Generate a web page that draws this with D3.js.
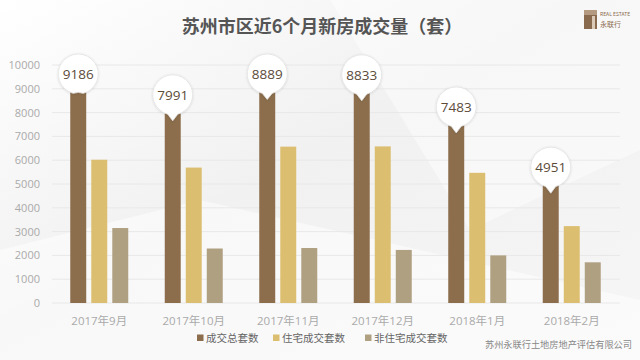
<!DOCTYPE html>
<html>
<head>
<meta charset="utf-8">
<script src="https://cdn.jsdelivr.net/npm/d3@7"></script>
<style>
  html, body { margin: 0; padding: 0; }
  body { width: 640px; height: 360px; overflow: hidden; font-family: "Noto Sans CJK SC", "Noto Sans", sans-serif; }
</style>
</head>
<body>
<div id="chart"></div>
<script>
// Data
const months = ["2017年9月", "2017年10月", "2017年11月", "2017年12月", "2018年1月", "2018年2月"];
const seriesNames = ["成交总套数", "住宅成交套数", "非住宅成交套数"];
const totalUnits = [9186, 7991, 8889, 8833, 7483, 4951];
const residentialUnits = [6020, 5690, 6570, 6580, 5470, 3230];
const nonResidentialUnits = [3150, 2290, 2310, 2230, 2000, 1710];
const yTicks = [0, 1000, 2000, 3000, 4000, 5000, 6000, 7000, 8000, 9000, 10000];

const colors = ["#8c6e4c", "#dcbe70", "#b0a082"];

const width = 640;
const height = 360;

const svg = d3.select("#chart")
  .append("svg")
  .attr("width", width)
  .attr("height", height);

// Background
const defs = svg.append("defs");
const bg = defs.append("linearGradient")
  .attr("id", "bg")
  .attr("x1", "0").attr("y1", "0")
  .attr("x2", "1").attr("y2", "1");
bg.append("stop").attr("offset", "0%").attr("stop-color", "#ffffff");
bg.append("stop").attr("offset", "45%").attr("stop-color", "#f1f1f1");
bg.append("stop").attr("offset", "100%").attr("stop-color", "#f6f6f6");
svg.append("rect").attr("width", width).attr("height", height).attr("fill", "url(#bg)");
svg.append("path")
  .attr("d", "M330,0 L640,0 L640,150 L470,230 Z")
  .attr("fill", "#ffffff").attr("opacity", 0.45);
svg.append("path")
  .attr("d", "M0,250 L200,200 L640,300 L640,360 L0,360 Z")
  .attr("fill", "#ffffff").attr("opacity", 0.5);

const shadow = defs.append("filter").attr("id", "shadow")
  .attr("x", "-30%").attr("y", "-30%").attr("width", "160%").attr("height", "160%");
shadow.append("feDropShadow")
  .attr("dx", 0).attr("dy", 0.5).attr("stdDeviation", 1)
  .attr("flood-color", "#000").attr("flood-opacity", 0.15);

// Title
svg.append("text")
  .attr("x", 322).attr("y", 33)
  .attr("text-anchor", "middle")
  .style("font-size", "18px")
  .style("font-weight", "bold")
  .style("fill", "#555")
  .text("苏州市区近6个月新房成交量（套）");

// Logo
const logo = svg.append("g").attr("transform", "translate(584,10)");
logo.append("rect").attr("width", 13).attr("height", 19).attr("fill", "#8a6a4e");
logo.append("rect").attr("x", 0).attr("y", 0).attr("width", 13).attr("height", 5).attr("fill", "#b39a80");
logo.append("rect").attr("x", 8).attr("y", 6).attr("width", 3).attr("height", 13).attr("fill", "#d9c9b6");
logo.append("text").attr("x", 16).attr("y", 6)
  .style("font-size", "5px").style("fill", "#8a6a4e").text("REAL ESTATE");
logo.append("text").attr("x", 16).attr("y", 17)
  .style("font-size", "7px").style("fill", "#8a6a4e").text("永联行");

// Scales
const x0 = d3.scaleBand().domain(months).range([52, 619]).padding(0);
const x1 = d3.scaleBand().domain(seriesNames).range([0, 58]).paddingInner(0.24);
const y = d3.scaleLinear().domain([0, 10000]).range([303, 65]);

// Grid
svg.append("g")
  .selectAll("line")
  .data(yTicks)
  .enter()
  .append("line")
  .attr("x1", 52)
  .attr("x2", 620)
  .attr("y1", (d) => y(d))
  .attr("y2", (d) => y(d))
  .style("stroke", "#e8e8e8")
  .style("stroke-width", 1);

// Y axis
const yAxis = svg.append("g")
  .attr("transform", "translate(40,0)")
  .call(d3.axisLeft(y).tickValues(yTicks).tickFormat(d3.format("d")).tickSize(0).tickPadding(0));
yAxis.select(".domain").remove();
yAxis.selectAll("text")
  .style("font-size", "11px")
  .style("fill", "#aaa")
  .style("font-family", "'Open Sans', 'Noto Sans', sans-serif");

// X axis
const xAxis = svg.append("g")
  .attr("transform", "translate(0,325)")
  .call(d3.axisBottom(x0).tickSize(0).tickPadding(0));
xAxis.select(".domain").remove();
xAxis.selectAll("text")
  .attr("dy", 0)
  .style("font-size", "11.5px")
  .style("fill", "#aaa")
  .style("font-family", "'Open Sans', 'Noto Sans CJK SC', sans-serif");

// Bars
const rows = months.map((m, i) => ({
  month: m,
  values: [totalUnits[i], residentialUnits[i], nonResidentialUnits[i]]
}));

const groups = svg.append("g")
  .selectAll("g")
  .data(rows)
  .enter()
  .append("g")
  .attr("transform", (d) => `translate(${x0(d.month) + (x0.bandwidth() - 58) / 2},0)`);

groups.selectAll("rect")
  .data((d) => d.values.map((v, j) => ({ key: seriesNames[j], value: v, idx: j })))
  .enter()
  .append("rect")
  .attr("x", (d) => x1(d.key))
  .attr("y", (d) => y(d.value))
  .attr("width", x1.bandwidth())
  .attr("height", (d) => y(0) - y(d.value))
  .style("fill", (d) => colors[d.idx]);

// Balloons for total values
const balloonY = (v) => Math.max(y(v) - 18, 74);
const balloons = groups.append("g")
  .attr("transform", (d) => {
    const cx = x1(seriesNames[0]) + x1.bandwidth() / 2;
    return `translate(${cx},${balloonY(d.values[0])})`;
  });

balloons.append("path")
  .attr("d", (d) => {
    const tip = y(d.values[0]) + 8 - balloonY(d.values[0]);
    const r = 20;
    const a = Math.asin(5 / r);
    const sx = r * Math.sin(a), sy = r * Math.cos(a);
    return `M${-sx},${sy} A${r},${r} 0 1 1 ${sx},${sy} L0,${tip} Z`;
  })
  .style("fill", "#fff")
  .style("stroke", "#e2e2e2")
  .style("stroke-width", 0.8)
  .attr("filter", "url(#shadow)");

balloons.append("text")
  .attr("text-anchor", "middle")
  .attr("dy", "0.36em")
  .style("font-size", "13.5px")
  .style("fill", "#5c4c3a")
  .style("font-family", "'Open Sans', 'Noto Sans', sans-serif")
  .text((d) => d.values[0]);

// Legend
const legendX = [197, 273, 365];
const legend = svg.append("g")
  .selectAll("g")
  .data(seriesNames)
  .enter()
  .append("g")
  .attr("transform", (d, i) => `translate(${legendX[i]},342)`);
legend.append("rect")
  .attr("x", 0).attr("y", -7.5)
  .attr("width", 6.5).attr("height", 6.5)
  .style("fill", (d, i) => colors[i]);
legend.append("text")
  .attr("x", 9)
  .attr("y", 0)
  .style("font-size", "10.5px")
  .style("fill", "#666")
  .text((d) => d);

// Footer
svg.append("text")
  .attr("x", 632)
  .attr("y", 348)
  .attr("text-anchor", "end")
  .style("font-size", "9.2px")
  .style("fill", "#888")
  .text("苏州永联行土地房地产评估有限公司");
</script>
</body>
</html>
